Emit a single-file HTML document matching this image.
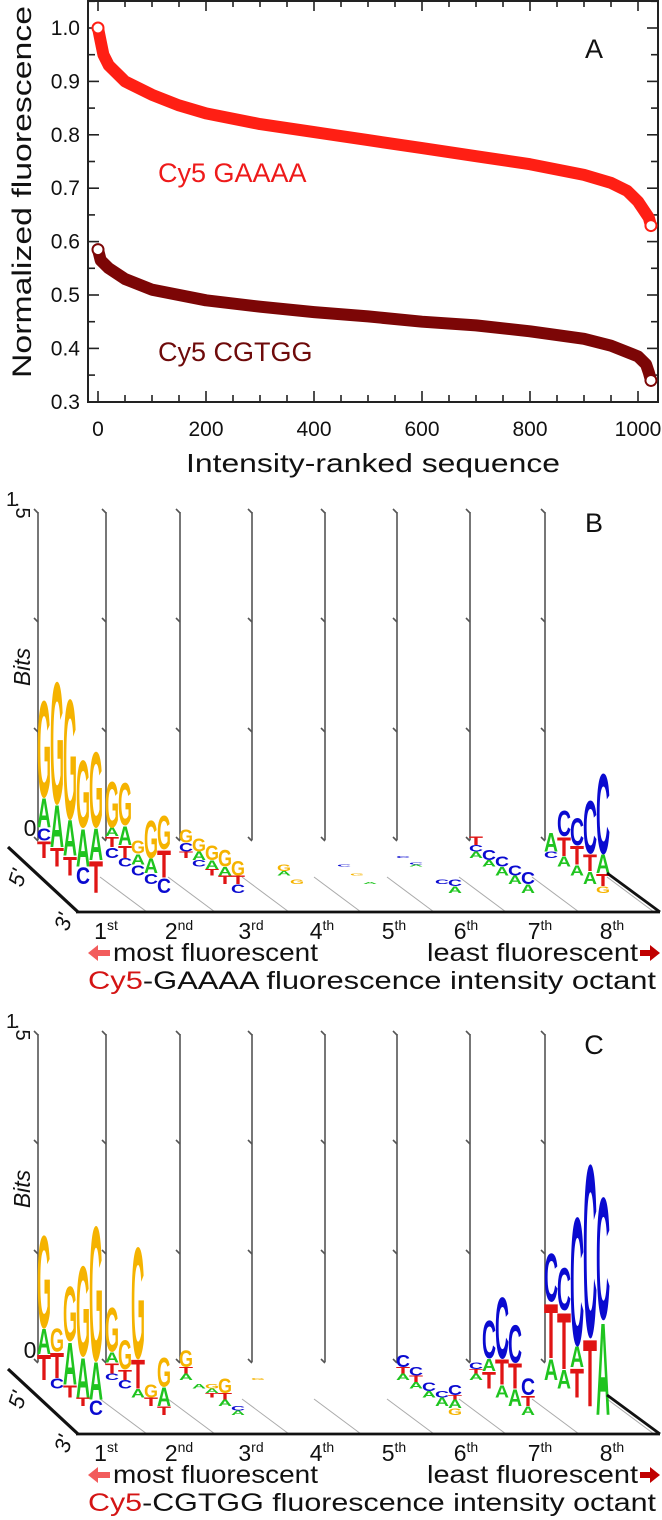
<!DOCTYPE html>
<html><head><meta charset="utf-8">
<style>
html,body{margin:0;padding:0;background:#fff;}
svg{display:block;font-family:"Liberation Sans",Arial,sans-serif;}
</style></head>
<body>
<svg id="fig" width="662" height="1520" viewBox="0 0 662 1520" xmlns="http://www.w3.org/2000/svg">
<g id="panelA"></g>
<g id="panelB"></g>
<g id="panelC"></g>
</svg>
<script>
// ---------- Panel A data ----------
const ranks = [0,5,10,20,50,100,150,200,300,400,500,600,700,800,900,950,980,1000,1010,1020,1024];
const gaaaaValues = [1.0,0.975,0.95,0.93,0.9,0.875,0.855,0.84,0.82,0.805,0.79,0.775,0.76,0.745,0.725,0.71,0.695,0.675,0.66,0.645,0.63];
const cgtggRanks = [0,5,20,50,100,200,300,400,500,600,700,800,900,950,1000,1015,1020,1024];
const cgtggValues = [0.585,0.565,0.55,0.53,0.51,0.49,0.478,0.468,0.46,0.45,0.443,0.432,0.418,0.405,0.385,0.37,0.355,0.34];
const xTicks = [0,200,400,600,800,1000];
const yTicks = [0.3,0.4,0.5,0.6,0.7,0.8,0.9,1.0];

// ---------- Logo data (bits, bottom->top per column) ----------
const octantLabels = ["1","2","3","4","5","6","7","8"];
const octantSup = ["st","nd","rd","th","th","th","th","th"];
const logoB = [
 ["T:.08,C:.06,A:.14,G:.46","T:.09,A:.2,G:.58","T:.09,A:.17,G:.57","C:.08,A:.18,G:.32","T:.15,A:.15,G:.36"],
 ["C:.05,T:.05,A:.04,G:.22","C:.04,T:.06,A:.09,G:.2","C:.05,A:.05,G:.06","C:.05,A:.07,G:.18","C:.07,T:.13,G:.16"],
 ["T:.03,C:.04,G:.06","C:.03,A:.04,G:.06","T:.03,A:.04,G:.07","T:.04,A:.04,G:.08","C:.04,T:.04,G:.07"],
 ["","","A:.02,G:.03","G:.02",""],
 ["","C:.01","G:.01","A:.01",""],
 ["C:.01","A:.01,C:.01","","C:.02","A:.03,C:.03"],
 ["A:.03,C:.03,T:.04","A:.03,C:.05","A:.04,C:.05","A:.04,C:.05","A:.04,C:.06"],
 ["C:.03,A:.09","A:.05,T:.09,C:.12","A:.05,T:.09,C:.13","A:.06,T:.08,C:.25","G:.03,T:.06,A:.09,C:.38"]
];
const logoC = [
 ["T:.12,A:.12,G:.44","C:.05,T:.12,G:.11","T:.06,A:.2,G:.26","T:.04,A:.19,G:.43","C:.07,A:.18,G:.64"],
 ["C:.03,T:.05,A:.05,G:.21","C:.04,T:.05,G:.14","A:.04,T:.14,G:.53","T:.04,G:.06","T:.04,A:.09,G:.14"],
 ["A:.03,T:.03,G:.08","A:.02","T:.02,A:.02,G:.02","A:.03,T:.03,G:.07","A:.02,C:.02"],
 ["G:.01","","","",""],
 ["","","","",""],
 ["A:.03,T:.03,C:.06","A:.03,T:.03,C:.04","A:.03,C:.04","A:.04,C:.03","G:.03,A:.04,T:.02,C:.05"],
 ["A:.03,T:.02,C:.03","T:.08,A:.06,C:.18","A:.06,T:.12,C:.29","A:.08,T:.12,C:.18","A:.04,T:.05,C:.08"],
 ["A:.1,T:.26,C:.23","A:.09,T:.27,C:.2","T:.14,A:.1,C:.61","T:.32,C:.82","A:.44,C:.58"]
];

const NS="http://www.w3.org/2000/svg";
function el(tag, attrs, parent, text){
  const e=document.createElementNS(NS,tag);
  for(const k in attrs) e.setAttribute(k,attrs[k]);
  if(text!==undefined) e.textContent=text;
  parent.appendChild(e); return e;
}

// ---------- Panel A ----------
(function(){
  const g=document.getElementById('panelA');
  const L=88,R=658,T=0,B=402;
  const xs=v=>98+v*0.54;
  const ys=v=>28+(1.0-v)*534;
  const frame=el('rect',{x:L,y:T+1,width:R-L,height:B-T-1,fill:'none',stroke:'#222','stroke-width':2},g);
  
  
  for(let v=0;v<=1050;v+=50){
    const x=xs(v); const len=(v%200===0)?11:7;
    el('line',{x1:x,y1:B,x2:x,y2:B-len,stroke:'#222','stroke-width':1.6},g);
    el('line',{x1:x,y1:T,x2:x,y2:T+len,stroke:'#222','stroke-width':1.6},g);
  }
  for(let i=0;i<=15;i++){
    const v=0.3+i*0.05; const y=ys(v); const len=(i%2===0)?11:7;
    el('line',{x1:L,y1:y,x2:L+len,y2:y,stroke:'#222','stroke-width':1.6},g);
    el('line',{x1:R,y1:y,x2:R-len,y2:y,stroke:'#222','stroke-width':1.6},g);
  }
  xTicks.forEach(v=>{
    const t=el('text',{x:xs(v),y:436,'font-size':21,'text-anchor':'middle',fill:'#111'},g,String(v));
    
    
  });
  yTicks.forEach(v=>{
    const t=el('text',{x:80,y:ys(v)+7,'font-size':21,'text-anchor':'end',fill:'#111'},g,v.toFixed(1));
    
    
  });
  const xt=el('text',{x:373,y:472,'font-size':26,'text-anchor':'middle',fill:'#111',textLength:374,lengthAdjust:'spacingAndGlyphs'},g,'Intensity-ranked sequence');
  
  
  const yt=el('text',{x:0,y:0,'font-size':27,'text-anchor':'middle',fill:'#111',transform:'translate(31,192) rotate(-90)',textLength:372,lengthAdjust:'spacingAndGlyphs'},g,'Normalized fluorescence');
  
  
  const pl=el('text',{x:594,y:58,'font-size':27,'text-anchor':'middle',fill:'#111'},g,'A');
  
  

  function series(rk,vals,color,name){
    const pts=rk.map((r,i)=>xs(r).toFixed(1)+','+ys(vals[i]).toFixed(1)).join(' ');
    const p=el('polyline',{points:pts,fill:'none',stroke:color,'stroke-width':12,'stroke-linejoin':'round','stroke-linecap':'round'},g);
    
    
    [0,rk.length-1].forEach(i=>{
      const c=el('circle',{cx:xs(rk[i]),cy:ys(vals[i]),r:5.5,fill:'#fff',stroke:color,'stroke-width':2},g);
      
      
    });
  }
  series(ranks,gaaaaValues,'#ff1f14','series-gaaaa');
  series(cgtggRanks,cgtggValues,'#7c0606','series-cgtgg');
  const l1=el('text',{x:158,y:182,'font-size':27,fill:'#ee1a1a'},g,'Cy5 GAAAA');
  
  
  const l2=el('text',{x:158,y:361,'font-size':27,fill:'#6e0a0a'},g,'Cy5 CGTGG');
  
  
})();

// ---------- Logo panels ----------
const colors={A:'#1fc41f',C:'#0a0ad0',G:'#f5b300',T:'#e01414'};
const adv={A:72.2,C:72.2,G:77.8,T:61.1};
function drawLogo(gid,off,data,letterName,titleRest){
  const g=document.getElementById(gid);
  const zero=840+off, top=512+off, front=912+off, bit=218.7;
  const vx=[38,106,180,252,325,397,470,545];
  vx.forEach(x=>{
    const gl=el('line',{x1:x+62,y1:zero+37,x2:x+109,y2:front,stroke:'#aaa','stroke-width':1},g);
    
    
  });
  vx.forEach(x=>{
    const v=el('line',{x1:x,y1:top,x2:x,y2:zero,stroke:'#555','stroke-width':1.6},g);
    
    
    [top,top+109,top+219,zero].forEach(y=>{
      el('line',{x1:x-4,y1:y-3,x2:x,y2:y+1,stroke:'#555','stroke-width':1.6},g);
    });
  });
  data.forEach((oct,i)=>{
    oct.forEach((col,p)=>{
      if(!col) return;
      const cx=vx[i]+6+13*p; let y=zero+18+8.7*p;
      col.split(',').forEach(item=>{
        const [L,v]=item.split(':'); const h=parseFloat(v)*bit;
        if(h<0.5) return;
        const sx=14/adv[L], sy=h/72.9;
        const t=el('text',{x:0,y:0,'font-size':100,'font-weight':'bold','text-anchor':'middle',fill:colors[L],transform:`translate(${cx.toFixed(1)},${y.toFixed(1)}) scale(${sx.toFixed(3)},${sy.toFixed(3)})`},g,L);
        
        
        y-=h;
      });
    });
  });
  const fl=el('line',{x1:76,y1:front,x2:660,y2:front,stroke:'#111','stroke-width':2.8},g);
  
  
  el('line',{x1:8,y1:zero+7,x2:78,y2:front,stroke:'#111','stroke-width':3.2},g);
  el('line',{x1:607,y1:zero+33,x2:660,y2:front,stroke:'#111','stroke-width':2.8},g);
  el('text',{x:6,y:top-6,'font-size':20,fill:'#111'},g,'1');
  el('text',{x:0,y:0,'font-size':20,fill:'#111',transform:`translate(16,${top-10}) rotate(90)`},g,'.5');
  const bt=el('text',{x:0,y:0,'font-size':23,'font-style':'italic','text-anchor':'middle',fill:'#111',transform:`translate(30,${667+off}) rotate(-90)`},g,'Bits');
  
  
  el('text',{x:30,y:zero-4,'font-size':23,'text-anchor':'middle',fill:'#111'},g,'0');
  el('text',{x:0,y:0,'font-size':22,'font-style':'italic',fill:'#111',transform:`translate(22,${zero+48}) rotate(-72)`},g,"5'");
  el('text',{x:0,y:0,'font-size':22,'font-style':'italic',fill:'#111',transform:`translate(68,${front+20}) rotate(-72)`},g,"3'");
  const pl=el('text',{x:594,y:522+off+10,'font-size':27,'text-anchor':'middle',fill:'#111'},g,letterName);
  
  
  const lx=[112,185,257,328,400,472,546,618];
  octantLabels.forEach((n,i)=>{
    const t=el('text',{x:lx[i]-6,y:front+27,'font-size':23,'text-anchor':'middle',fill:'#111'},g);
    
    
    el('tspan',{},t,n);
    el('tspan',{'font-size':14,dy:-9},t,octantSup[i]);
  });
  el('polygon',{points:`88,${front+41} 98,${front+33} 98,${front+38} 110,${front+38} 110,${front+44} 98,${front+44} 98,${front+49}`,fill:'#f25c5c'},g);
  el('polygon',{points:`660,${front+41} 650,${front+33} 650,${front+38} 640,${front+38} 640,${front+44} 650,${front+44} 650,${front+49}`,fill:'#c00000'},g);
  const m=el('text',{x:113,y:front+49,'font-size':25,fill:'#111',textLength:205,lengthAdjust:'spacingAndGlyphs'},g,'most fluorescent');
  
  
  const lf=el('text',{x:427,y:front+49,'font-size':25,fill:'#111',textLength:211,lengthAdjust:'spacingAndGlyphs'},g,'least fluorescent');
  
  
  const tt=el('text',{x:88,y:front+77,'font-size':25,fill:'#111',textLength:568,lengthAdjust:'spacingAndGlyphs'},g);
  
  
  el('tspan',{fill:'#d41414'},tt,'Cy5');
  el('tspan',{},tt,titleRest);
}
drawLogo('panelB',0,logoB,'B','-GAAAA fluorescence intensity octant');
drawLogo('panelC',522,logoC,'C','-CGTGG fluorescence intensity octant');
</script>
</body></html>
